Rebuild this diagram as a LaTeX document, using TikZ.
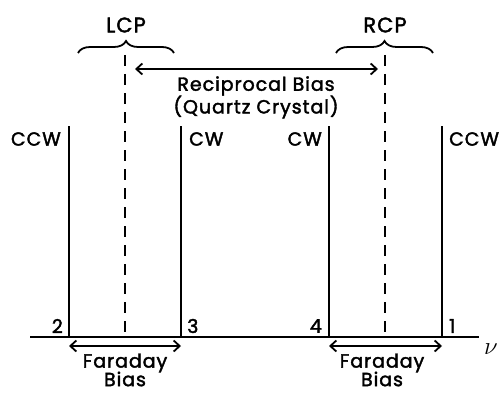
\documentclass[tikz,border=0pt]{standalone}
\usepackage{fontspec}
\newfontfamily\labfont{Poppins}[LetterSpace=5, FakeBold=2]
\usetikzlibrary{arrows.meta,decorations.pathreplacing}
\begin{document}
\begin{tikzpicture}[x=1pt,y=-1pt,
  lab/.style={font=\labfont\fontsize{19}{21}\selectfont, inner sep=0pt},
  big/.style={font=\labfont\fontsize{21}{23}\selectfont, inner sep=0pt},
  peak/.style={line width=2.4pt},
  center/.style={line width=2.4pt, dash pattern=on 11pt off 8pt},
  bias/.style={line width=1.8pt, {Straight Barb[length=6pt,width=11pt]}-{Straight Barb[length=6pt,width=11pt]}},
  brace/.style={line width=1.8pt, decorate, decoration={brace, amplitude=12pt}}]
\useasboundingbox (0,0) rectangle (502,393);

% frequency axis
\coordinate (ax0) at (30,337);
\coordinate (ax1) at (479,337);
\draw[line width=2.4pt] (ax0) -- (ax1);
\node[font=\fontsize{26}{28}\selectfont, inner sep=0pt, anchor=west] (nu) at (484,349) {$\nu$};

% resonance lines
\coordinate (p2t) at (69,126);  \coordinate (p2b) at (69,337);
\coordinate (p3t) at (181,126); \coordinate (p3b) at (181,337);
\coordinate (p4t) at (329,126); \coordinate (p4b) at (329,337);
\coordinate (p1t) at (442,126); \coordinate (p1b) at (442,337);
\draw[peak] (p2t) -- (p2b);
\draw[peak] (p3t) -- (p3b);
\draw[peak] (p4t) -- (p4b);
\draw[peak] (p1t) -- (p1b);

% polarisation centres
\coordinate (lt) at (125,55); \coordinate (lb) at (125,337);
\coordinate (rt) at (385,55); \coordinate (rb) at (385,337);
\draw[center] (lt) -- (lb);
\draw[center] (rt) -- (rb);

% sense labels
\node[lab, anchor=east] (ccwL) at (61,139) {CCW};
\node[lab, anchor=west] (cwL) at (189,139) {CW};
\node[lab, anchor=east] (cwR) at (322,139) {CW};
\node[lab, anchor=west] (ccwR) at (449,139) {CCW};

% mode numbers
\node[lab, anchor=east] (n2) at (63,326) {2};
\node[lab, anchor=west] (n3) at (187,326) {3};
\node[lab, anchor=east] (n4) at (322,326) {4};
\node[lab, anchor=west] (n1) at (449,326) {1};

% braces and polarisation labels
\coordinate (bl0) at (78,53);  \coordinate (bl1) at (174,53);
\coordinate (br0) at (336,53); \coordinate (br1) at (433,53);
\draw[brace] (bl0) -- (bl1);
\draw[brace] (br0) -- (br1);
\node[big] (lcp) at (126,25) {LCP};
\node[big] (rcp) at (385,25) {RCP};

% reciprocal bias
\coordinate (ra) at (135,69); \coordinate (rz) at (378,69);
\draw[bias] (ra) -- (rz);
\node[lab] (rec) at (256,86) {Reciprocal Bias};
\node[lab] (qc) at (256,107) {(Quartz Crystal)};

% Faraday bias
\coordinate (fl0) at (69,346); \coordinate (fl1) at (181,346);
\coordinate (fr0) at (329,346); \coordinate (fr1) at (442,346);
\draw[bias] (fl0) -- (fl1);
\draw[bias] (fr0) -- (fr1);
\node[lab] (fdL) at (125,363) {Faraday};
\node[lab] (bsL) at (125,379) {Bias};
\node[lab] (fdR) at (382,363) {Faraday};
\node[lab] (bsR) at (382,379) {Bias};
\end{tikzpicture}
\end{document}
